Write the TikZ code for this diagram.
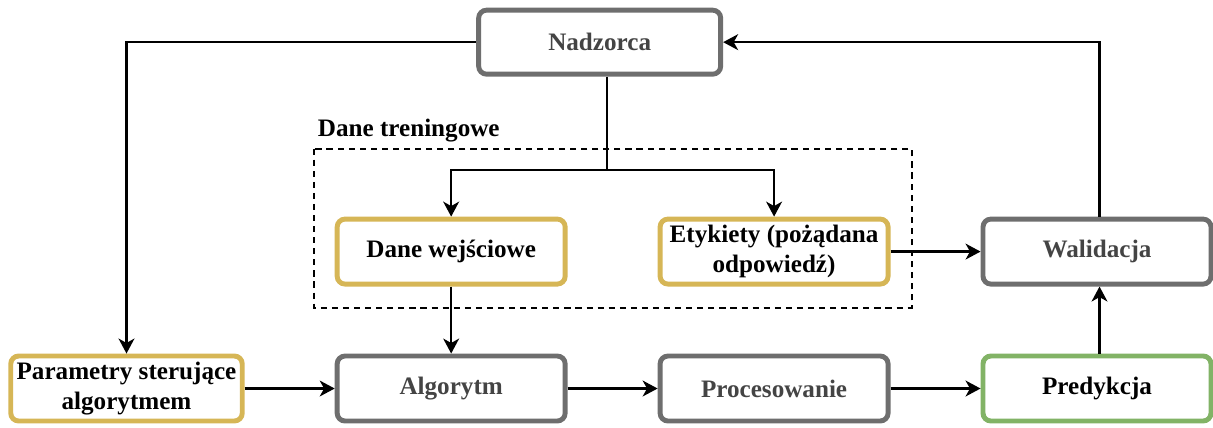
\documentclass[tikz,border=0pt]{standalone}
\usepackage{fontspec}
\setmainfont{Liberation Serif}
\usepackage{xcolor}
\usetikzlibrary{positioning}
\usetikzlibrary{arrows.meta}
\usetikzlibrary{calc}

\definecolor{boxgray}{HTML}{6E6E6E}
\definecolor{boxyellow}{HTML}{D6B656}
\definecolor{boxgreen}{HTML}{82B366}
\definecolor{txtgray}{HTML}{444444}

\begin{document}
\begin{tikzpicture}[>={Stealth[length=8.5pt,width=9pt,inset=2.5pt]}, line width=1.4pt,
    node distance=1.8cm,
    box/.style={rectangle,rounded corners=4.5pt,draw,line width=2.8pt,fill=white,
      minimum width=4.56cm,minimum height=1.3cm,align=center,
      font=\fontsize{14.3}{17}\selectfont\bfseries},
    gray box/.style={box,draw=boxgray,text=txtgray},
    data box/.style={box,draw=boxyellow},
    pred box/.style={box,draw=boxgreen}]

  \useasboundingbox (0,0) rectangle (24.26,-8.54);

  \node[data box] (param) at (2.53,-7.77) {Parametry sterujące\\algorytmem};
  \node[gray box] (alg) [right=1.8cm of param] {Algorytm};
  \node[gray box] (proc) [right=1.8cm of alg] {Procesowanie};
  \node[pred box] (pred) [right=1.8cm of proc] {Predykcja};
  \node[data box] (input) [above=1.34cm of alg] {Dane wejściowe};
  \node[data box] (labels) [above=1.34cm of proc] {Etykiety (pożądana\\odpowiedź)};
  \node[gray box] (valid) [above=1.34cm of pred] {Walidacja};
  \node[gray box,minimum width=4.84cm,minimum height=1.28cm] (super)
       [above=2.8cm of input, xshift=2.97cm] {Nadzorca};

  % training data frame
  \coordinate (frameNW) at ($(input.north west)+(-0.42,1.36)$);
  \coordinate (frameSE) at ($(labels.south east)+(0.42,-0.42)$);
  \draw[line width=1.1pt,dash pattern=on 3.5pt off 2.8pt] (frameNW) rectangle (frameSE);
  \node[anchor=base west,inner sep=0pt,font=\fontsize{14.3}{17}\selectfont\bfseries]
       (trainlbl) at ($(frameNW)+(0.06,0.25)$) {Dane treningowe};

  \coordinate (split) at (12.14,-3.4);

  \draw[->] (super.west) -| (param.north);
  \draw (split |- super.south) -- (split);
  \draw[->] (split) -| (input.north);
  \draw[->] (split) -| (labels.north);
  \draw[->] ([xshift=0.05cm]valid.north) |- (super.east);

  \path[->]
    (param) edge (alg)
    (alg) edge (proc)
    (proc) edge (pred)
    (input) edge (alg)
    (labels) edge (valid)
    ([xshift=0.05cm]pred.north) edge ([xshift=0.05cm]valid.south);
\end{tikzpicture}
\end{document}
